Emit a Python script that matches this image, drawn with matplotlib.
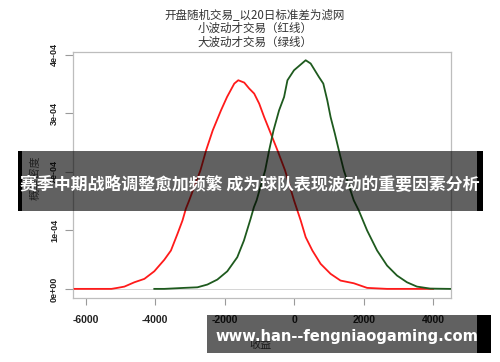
import matplotlib
matplotlib.use("Agg")
import matplotlib.pyplot as plt
from matplotlib.patches import Rectangle

# ---- data ----
red_x = [-6323, -5262, -5090, -4889, -4602, -4315, -4029, -3742, -3550, -3361, -3217, -3120,
         -3025, -2701, -2538, -2346, -2108, -1935, -1726, -1611, -1439, -1296, -1153, -1009,
         -866, -674, -482, -264, -6, 186, 330, 522, 760, 1047, 1333, 1715, 2099, 2672, 4000]
red_y = [0.0, 0.0, 0.017, 0.039, 0.113, 0.171, 0.301, 0.497, 0.656, 0.942, 1.170, 1.370,
         1.512, 2.026, 2.368, 2.711, 3.053, 3.281, 3.510, 3.567, 3.527, 3.425, 3.339, 3.168,
         2.938, 2.654, 2.368, 2.026, 1.512, 1.170, 0.884, 0.656, 0.428, 0.257, 0.142, 0.096,
         0.017, 0.0, 0.0]
green_x = [-4029, -3742, -3168, -2787, -2500, -2214, -1927, -1640, -1448, -1256, -1161, -1084,
           -837, -723, -596, -436, -292, -195, -6, 330, 473, 711, 837, 952, 1047, 1170, 1285,
           1428, 1715, 1858, 2099, 2386, 2672, 2959, 3246, 3533, 3914, 4487]
green_y = [0.0, 0.0, 0.017, 0.027, 0.074, 0.159, 0.301, 0.541, 0.827, 1.199, 1.397, 1.512,
           2.026, 2.368, 2.711, 3.053, 3.281, 3.567, 3.738, 3.909, 3.853, 3.623, 3.510, 3.223,
           2.938, 2.654, 2.368, 2.026, 1.512, 1.341, 0.998, 0.656, 0.399, 0.228, 0.113, 0.039,
           0.005, 0.0]
x_ticks = [-6000, -4000, -2000, 0, 2000, 4000]
y_ticks = [0, 1e-4, 2e-4, 3e-4, 4e-4]
y_tick_labels = ["0e+00", "1e-04", "2e-04", "3e-04", "4e-04"]
title_lines = ["开盘随机交易_以20日标准差为滤网", "小波动才交易（红线）", "大波动才交易（绿线）"]
x_label = "收益"
y_label = "概率密度"
banner_text = "赛季中期战略调整愈加频繁 成为球队表现波动的重要因素分析"
watermark_text = "www.han--fengniaogaming.com"

W, H = 500, 362
fig = plt.figure(figsize=(W / 100, H / 100), dpi=100)
fig.patch.set_facecolor("white")

def fx(px):
    return px / W

def fy(py):
    return 1 - py / H

ax = fig.add_axes([fx(73), fy(298), fx(451) - fx(73), fy(52) - fy(298)])
ax.axhline(0, color="#cfcfcf", lw=0.6, zorder=1)
ax.plot(red_x, [v * 1e-4 for v in red_y], color="#ff1a1a", lw=1.3, zorder=3)
ax.plot(green_x, [v * 1e-4 for v in green_y], color="#1e5a1e", lw=1.3, zorder=3)
ax.set_xlim(-6370, 4514)
ax.set_ylim(-0.156e-4, 4.05e-4)

for s in ax.spines.values():
    s.set_color("#bdbdbd")
    s.set_linewidth(0.9)

ax.set_xticks(x_ticks)
ax.set_xticklabels([str(t) for t in x_ticks], fontsize=7.5, family="Liberation Sans",
                   fontweight="bold", color="#222222")
ax.set_yticks(y_ticks)
ax.set_yticklabels(y_tick_labels, fontsize=6.5, family=["Liberation Sans Narrow", "Liberation Sans"],
                   fontweight="bold", color="#222222", rotation=90, va="center")
ax.tick_params(axis="x", length=5, width=0.8, color="#9a9a9a", pad=7)
ax.tick_params(axis="y", length=6, width=0.8, color="#9a9a9a", pad=4)

fig.text(fx(260), fy(345), x_label, ha="center", va="center", fontsize=8,
         family="Noto Sans CJK SC", color="#444444")
fig.text(fx(35), fy(178), y_label, ha="center", va="center", fontsize=8, rotation=90,
         family="Noto Sans CJK SC", color="#555555")

ys = [15, 28, 42]
for t, yy in zip(title_lines, ys):
    fig.text(fx(255), fy(yy), t, ha="center", va="center", fontsize=8.3,
             family=["Noto Sans CJK SC", "DejaVu Sans"], color="#333333")

# banner overlay
fig.add_artist(Rectangle((fx(18), fy(211)), fx(483) - fx(18), fy(151) - fy(211),
                         transform=fig.transFigure, facecolor="black", alpha=0.62,
                         edgecolor="none", zorder=5))
fig.add_artist(Rectangle((fx(18), fy(211)), fx(22) - fx(18), fy(151) - fy(211),
                         transform=fig.transFigure, facecolor="black", edgecolor="none", zorder=5))
fig.add_artist(Rectangle((fx(477), fy(211)), fx(483) - fx(477), fy(151) - fy(211),
                         transform=fig.transFigure, facecolor="black", edgecolor="none", zorder=5))
fig.text(fx(250), fy(185), banner_text, ha="center", va="center", fontsize=12.2,
         family=["Noto Sans CJK SC", "DejaVu Sans"], fontweight="bold", color="white", zorder=6)

# watermark
fig.add_artist(Rectangle((fx(207), fy(353)), fx(477) - fx(207), fy(315) - fy(353),
                         transform=fig.transFigure, facecolor="black", alpha=0.62,
                         edgecolor="none", zorder=5))
fig.add_artist(Rectangle((fx(477), fy(353)), fx(491) - fx(477), fy(315) - fy(353),
                         transform=fig.transFigure, facecolor="black", edgecolor="none", zorder=5))
fig.text(fx(347), fy(336), watermark_text, ha="center", va="center", fontsize=10.6,
         family="DejaVu Sans", fontweight="bold", color="white", zorder=6)

fig.save = None
fig.savefig("out.png", dpi=100)
